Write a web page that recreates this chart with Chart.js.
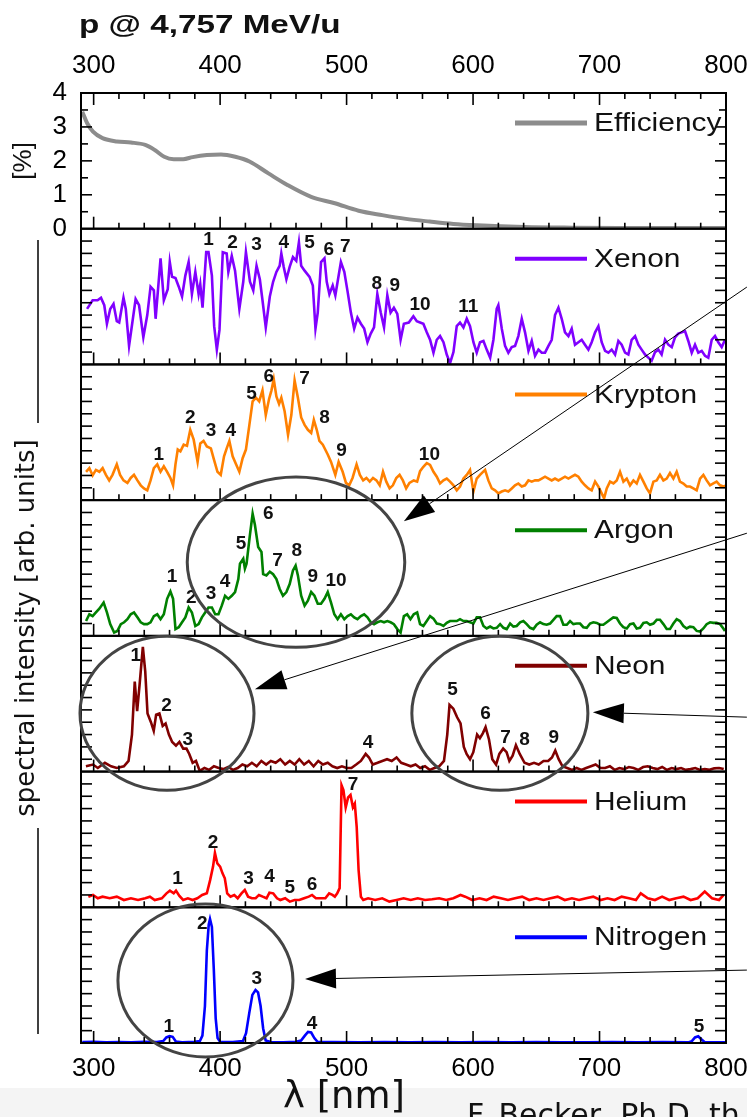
<!DOCTYPE html>
<html><head><meta charset="utf-8">
<script src="https://cdn.jsdelivr.net/npm/chart.js@4.4.1/dist/chart.umd.min.js"></script>
<style>html,body{margin:0;padding:0;background:#fff;}canvas{display:block;}</style>
</head><body>
<canvas id="c" width="747" height="1117"></canvas>
<script>
// ---------- data (wavelength nm, value) ----------
const efficiency = [[291,3.45],[295,3.1],[299.5,2.86],[307,2.67],[318.3,2.57],[329.5,2.54],[340.8,2.47],[348.3,2.32],[355.8,2.12],[363.3,2.05],[370.8,2.05],[378.3,2.11],[389.5,2.17],[400.7,2.19],[412,2.12],[423.2,1.98],[438.2,1.63],[453.2,1.29],[472,0.94],[490.7,0.75],[509.5,0.53],[528.2,0.40],[546.9,0.29],[565.7,0.21],[584.4,0.14],[603.2,0.10],[640.7,0.05],[678.2,0.03],[715.7,0.02],[800,0.02]];

const xenon = [[294.8,4.5],[299.2,5.2],[303.1,5.2],[305.8,5.4],[308.4,4.8],[310.5,3.3],[313.1,4.5],[315.7,4.9],[318.3,3.5],[320.2,3.4],[323.6,5.4],[325.4,4.5],[328.0,1.5],[330.6,3.4],[333.2,5.3],[335.9,4.8],[339.3,2.2],[342.4,4.0],[345.0,6.3],[347.6,6.0],[349.0,3.7],[352.9,8.6],[355.5,5.2],[358.6,6.1],[360.2,8.3],[362.0,7.1],[364.7,7.0],[367.3,6.3],[369.9,5.5],[372.5,7.2],[375.1,8.3],[377.7,5.7],[380.4,7.5],[383.0,5.7],[384.3,6.5],[386.1,4.6],[389.0,9.1],[390.8,9.1],[393.5,7.2],[395.3,3.1],[397.4,1.2],[399.5,2.8],[402.1,9.1],[405.2,9.0],[406.5,7.5],[409.2,8.8],[411.8,7.6],[415.2,4.5],[418.3,6.7],[420.4,9.1],[423.6,6.7],[426.2,6.0],[428.8,8.0],[431.4,6.9],[433.5,5.2],[436.1,3.0],[439.3,5.5],[441.9,6.7],[444.5,7.5],[447.1,8.0],[448.4,9.0],[450.3,7.9],[452.4,6.9],[455.0,7.9],[457.6,8.7],[460.2,8.4],[462.3,9.9],[464.1,8.0],[466.8,7.6],[470.7,7.1],[473.3,6.4],[475.4,2.9],[477.2,4.2],[479.8,8.3],[482.5,8.6],[484.3,6.7],[486.4,5.7],[489.0,6.4],[491.1,5.6],[492.9,6.7],[495.5,8.3],[498.2,7.5],[500.8,5.9],[503.4,4.2],[506.0,2.9],[508.6,3.8],[511.3,3.3],[513.9,2.9],[516.5,1.8],[519.1,2.5],[521.7,3.0],[524.3,5.7],[527.0,4.2],[529.6,3.0],[532.2,5.6],[534.8,4.2],[537.4,4.6],[540.1,4.1],[542.7,2.0],[545.3,3.3],[549.2,3.4],[552.8,3.9],[555.5,3.5],[558.1,3.4],[560.7,3.3],[563.4,2.6],[566.0,2.0],[568.7,0.95],[571.3,2.0],[573.9,2.3],[576.6,1.8],[579.2,0.8],[581.8,0.1],[584.5,1.0],[587.1,3.1],[589.7,3.4],[592.4,3.0],[595.0,3.7],[597.6,3.1],[600.3,1.8],[602.9,0.95],[605.5,1.8],[608.2,1.9],[610.8,1.2],[613.5,0.55],[616.1,2.0],[618.7,4.5],[620.0,4.8],[622.7,2.9],[625.3,1.5],[627.9,0.95],[630.6,1.4],[633.2,1.5],[635.8,2.3],[638.5,3.7],[641.1,2.6],[643.8,1.1],[646.4,1.9],[649.0,0.7],[651.7,1.2],[654.3,0.95],[656.9,0.95],[659.6,1.5],[662.2,2.0],[664.8,4.0],[667.5,4.6],[670.1,3.7],[672.7,2.6],[675.4,2.3],[678.0,2.9],[680.6,1.6],[683.3,1.8],[685.9,2.0],[688.5,1.6],[691.2,1.2],[693.8,1.8],[696.5,2.6],[699.1,3.1],[701.7,1.8],[704.4,1.1],[707.0,0.95],[709.6,1.2],[712.3,0.8],[714.9,1.9],[717.5,1.6],[720.2,0.95],[722.8,0.8],[725.4,2.0],[728.1,2.3],[730.7,1.6],[733.3,1.2],[736.0,0.8],[738.6,0.55],[741.2,0.3],[743.9,1.0],[746.5,1.2],[749.1,0.8],[751.8,2.0],[754.4,1.6],[757.1,1.4],[759.7,2.2],[762.3,2.5],[765.0,2.6],[767.6,2.7],[770.2,1.9],[772.9,0.95],[775.5,1.6],[778.1,0.95],[780.8,1.1],[783.4,0.7],[786.0,0.55],[788.7,2.0],[791.3,2.3],[793.9,1.8],[796.6,1.4],[799.2,2.0]];

const krypton = [[294.0,2.3],[296.6,2.6],[299.2,2.0],[301.8,2.45],[304.5,2.3],[307.1,2.6],[309.7,2.05],[312.3,1.6],[314.9,2.05],[318.3,2.9],[320.9,2.05],[323.6,1.6],[326.7,1.4],[329.3,1.8],[331.9,2.05],[334.6,1.6],[337.2,1.2],[339.8,0.95],[342.4,0.8],[345.0,1.6],[347.6,2.6],[350.3,2.9],[352.9,2.3],[355.5,2.75],[358.1,2.3],[360.7,1.8],[362.8,1.2],[364.7,2.9],[366.5,4.1],[368.6,3.95],[371.2,4.5],[373.8,4.4],[376.4,5.7],[379.1,4.9],[382.2,3.1],[384.3,4.6],[386.9,4.8],[389.5,4.35],[392.7,4.2],[394.8,3.4],[397.9,2.3],[400.5,2.05],[403.1,3.55],[405.2,4.2],[407.3,4.8],[409.9,3.55],[412.6,2.9],[415.2,2.3],[417.8,3.4],[420.4,4.1],[423.0,6.0],[425.7,8.0],[428.3,8.3],[430.9,8.0],[433.5,8.9],[436.1,6.9],[438.7,8.2],[440.6,8.9],[442.4,9.8],[444.5,8.4],[446.6,7.8],[448.4,8.3],[451.0,7.2],[453.7,5.3],[456.3,6.9],[458.9,9.7],[461.5,8.3],[464.1,6.7],[466.8,6.1],[469.4,5.7],[472.0,5.45],[474.1,6.5],[476.4,5.7],[478.5,4.8],[481.2,4.5],[485.1,3.7],[487.7,3.1],[491.1,2.05],[493.7,3.1],[496.9,2.3],[499.5,1.4],[502.1,1.2],[504.7,1.8],[507.9,2.9],[510.5,2.05],[513.1,1.6],[515.7,1.8],[518.3,1.5],[520.9,1.8],[523.6,1.6],[526.2,1.2],[528.8,2.3],[531.4,1.5],[534.0,0.95],[536.6,1.2],[539.3,1.8],[541.9,2.05],[544.5,1.6],[547.1,0.95],[549.7,1.4],[553.1,1.6],[555.8,1.5],[558.1,2.35],[560.7,2.7],[563.4,3.0],[566.0,2.85],[568.7,2.3],[571.3,1.9],[573.9,1.35],[576.6,1.6],[579.2,1.75],[581.8,1.5],[584.5,1.2],[587.1,0.8],[589.7,1.1],[592.4,1.75],[595.0,2.05],[597.6,2.45],[600.3,0.7],[602.9,1.75],[605.5,2.05],[609.5,2.45],[612.1,1.6],[614.8,0.95],[617.4,0.8],[620.0,0.55],[622.7,0.7],[625.3,0.8],[627.9,0.7],[630.6,0.95],[633.2,1.2],[635.8,1.35],[638.5,1.1],[641.1,1.2],[643.8,1.6],[646.4,1.5],[649.0,1.6],[651.7,1.6],[654.3,1.75],[656.9,1.9],[659.6,1.75],[662.2,1.6],[664.8,1.75],[667.5,1.6],[670.1,1.75],[672.7,1.9],[675.4,1.75],[678.0,1.9],[680.6,2.05],[683.3,1.9],[685.9,1.5],[688.5,1.2],[691.2,0.95],[693.8,0.8],[696.5,1.5],[699.1,1.1],[701.7,0.55],[703.6,0.15],[705.7,0.95],[708.3,1.5],[711.0,1.35],[713.6,1.6],[716.2,2.3],[718.9,1.5],[721.5,1.75],[724.1,1.2],[726.8,1.6],[729.4,1.35],[732.0,2.05],[734.7,1.5],[737.3,0.95],[739.9,0.55],[742.6,1.5],[745.2,1.6],[747.8,2.05],[750.5,1.6],[753.1,1.75],[755.7,2.2],[758.4,1.75],[761.0,2.3],[763.6,1.5],[766.3,1.35],[768.9,1.1],[771.5,1.1],[774.2,0.95],[776.8,0.8],[779.5,1.75],[782.1,2.05],[784.7,1.6],[787.4,1.2],[790.0,1.35],[792.6,1.5],[795.3,1.2],[797.9,1.1],[800,1.2]];

const argon = [[294.0,1.2],[296.6,1.75],[299.2,1.6],[301.8,1.9],[304.5,2.2],[307.9,2.7],[310.5,1.9],[313.1,0.95],[316.2,0.27],[318.8,0.4],[321.5,0.95],[324.1,1.1],[326.7,1.35],[329.3,1.75],[331.9,1.9],[334.6,1.5],[337.2,1.1],[339.8,0.95],[342.4,0.95],[345.0,1.1],[347.6,1.6],[350.3,1.75],[352.9,1.35],[355.5,1.75],[358.1,3.0],[360.7,3.6],[362.8,3.0],[364.7,0.55],[367.3,0.7],[369.9,1.1],[372.5,1.5],[375.1,2.3],[377.7,1.9],[380.4,0.8],[383.0,0.95],[385.6,1.5],[388.2,1.9],[390.8,2.3],[393.5,2.3],[396.1,1.75],[398.7,1.75],[401.3,2.45],[403.9,3.25],[406.5,3.0],[409.2,3.25],[411.8,3.55],[414.4,4.6],[415.7,5.85],[418.3,6.25],[419.6,5.45],[420.9,5.85],[423.6,8.2],[425.7,9.9],[427.5,9.0],[430.1,7.2],[432.7,6.8],[434.0,5.0],[436.6,4.9],[439.3,5.2],[441.9,5.0],[444.5,4.6],[447.1,3.8],[449.7,3.25],[452.4,3.55],[455.0,4.2],[457.6,5.3],[459.7,5.7],[461.5,4.9],[464.1,3.25],[466.8,2.45],[469.4,2.85],[472.0,3.55],[474.6,3.25],[477.2,2.6],[479.8,2.6],[482.5,3.0],[485.1,3.55],[487.7,2.7],[490.3,1.75],[492.9,1.35],[495.5,1.75],[498.2,1.35],[500.8,1.6],[503.4,1.75],[506.0,1.5],[508.6,1.35],[511.3,1.6],[513.9,1.75],[516.5,1.5],[519.1,1.1],[521.7,0.95],[524.3,1.1],[527.0,1.2],[529.6,1.1],[532.2,1.2],[534.8,1.1],[537.4,0.95],[540.1,0.55],[542.7,0.27],[545.3,1.6],[547.9,1.75],[550.5,1.35],[553.1,1.75],[555.8,1.9],[558.1,0.95],[560.7,0.8],[563.4,1.2],[566.0,1.6],[568.7,1.4],[571.3,1.0],[573.9,0.95],[576.6,0.8],[579.2,1.05],[581.8,1.2],[584.5,1.2],[587.1,1.2],[589.7,1.35],[592.4,1.2],[595.0,1.2],[597.6,1.1],[600.3,1.0],[602.9,1.5],[605.5,1.5],[608.2,0.8],[610.8,0.6],[613.5,0.75],[616.1,0.6],[618.7,0.65],[621.4,0.95],[624.0,0.65],[626.6,0.55],[629.3,1.0],[631.9,0.75],[634.5,0.8],[637.2,1.1],[639.8,1.2],[642.4,0.95],[645.1,0.65],[647.7,0.55],[650.3,0.9],[653.0,1.1],[655.6,0.95],[658.2,0.9],[660.9,1.0],[663.5,1.3],[666.1,1.6],[668.8,1.6],[671.4,0.9],[674.1,0.9],[676.7,1.2],[679.3,0.95],[682.0,1.0],[684.6,1.0],[687.2,0.7],[689.9,0.65],[692.5,1.0],[695.1,1.1],[697.8,1.05],[700.4,0.9],[703.0,0.9],[705.7,1.1],[708.3,1.3],[710.9,1.5],[713.6,1.45],[716.2,1.0],[718.8,0.7],[721.5,0.6],[724.1,0.95],[726.8,1.0],[729.4,0.6],[732.0,0.65],[734.7,1.05],[737.3,1.1],[739.9,0.9],[742.6,1.0],[745.2,1.3],[747.8,1.3],[750.5,0.95],[753.1,0.55],[755.7,0.55],[758.4,1.0],[761.0,1.35],[763.6,1.2],[766.3,0.8],[768.9,0.6],[771.5,0.75],[774.2,0.7],[776.8,0.4],[779.5,0.35],[782.1,0.6],[784.7,0.95],[787.4,1.1],[790.0,1.05],[792.6,1.05],[795.3,0.95],[797.9,0.6],[799.2,0.4]];

const neon = [[293.9,0.43],[299.5,0.57],[303.3,0.29],[308.9,0.71],[313.8,0.43],[318.3,0.29],[323.9,0.43],[327.6,0.86],[330.3,3.0],[332.5,7.3],[334.4,4.9],[336.3,7.0],[338.9,10.1],[340.8,8.1],[342.6,4.7],[345.3,4.0],[347.5,3.3],[349.4,4.6],[352.0,4.7],[354.6,3.7],[356.9,3.9],[359.5,3.0],[362.1,2.4],[365.1,2.1],[367.8,2.4],[370.8,1.86],[373.4,1.86],[375.6,1.43],[378.3,0.71],[380.9,0.86],[383.9,0.05],[387.6,0.29],[391.4,0.14],[395.1,0.43],[398.9,0.29],[402.6,0.2],[406.4,0.37],[410.1,0.14],[413.9,0.29],[417.6,0.57],[421.4,0.43],[425.1,0.71],[428.9,0.43],[432.6,0.86],[436.4,0.57],[440.1,0.86],[443.9,0.71],[447.6,1.0],[451.4,0.57],[455.1,0.86],[458.9,0.57],[462.6,1.0],[466.4,0.57],[470.1,0.86],[473.9,0.43],[477.6,0.86],[481.3,0.57],[485.1,0.71],[488.8,0.43],[492.6,0.29],[496.3,0.43],[500.1,0.29],[503.8,0.29],[507.6,0.57],[511.3,0.86],[515.1,1.43],[517.7,1.14],[520.7,0.57],[524.5,0.71],[528.2,0.86],[532.0,1.0],[535.7,0.86],[539.5,1.14],[543.2,0.71],[547.0,0.57],[550.7,0.43],[554.5,0.57],[558.2,0.29],[562.0,0.43],[565.7,0.14],[569.5,0.29],[573.2,0.43],[577.0,0.86],[579.6,3.0],[581.4,5.4],[584.4,5.1],[587.4,4.4],[590.1,3.9],[592.7,2.0],[594.9,1.43],[597.6,1.0],[600.2,1.57],[603.2,3.0],[605.4,2.7],[607.7,3.1],[609.9,3.6],[612.6,2.6],[615.2,1.0],[618.2,0.57],[620.8,1.43],[623.8,1.86],[626.5,1.57],[628.7,0.86],[631.3,1.29],[633.9,2.14],[636.9,1.43],[640.7,0.71],[644.4,0.57],[648.2,0.71],[651.9,0.57],[655.7,0.86],[659.4,0.86],[662.4,1.14],[665.0,1.71],[667.7,1.0],[670.7,0.43],[674.4,0.29],[678.2,0.14],[681.9,0.29],[685.7,0.14],[689.4,0.29],[693.2,0.43],[696.9,0.57],[700.7,0.29],[704.4,0.29],[708.2,0.43],[711.9,0.14],[715.7,0.29],[719.4,0.2],[723.2,0.37],[726.9,0.29],[730.7,0.14],[734.5,0.37],[738.2,0.43],[742.0,0.29],[745.7,0.2],[749.5,0.37],[753.2,0.14],[757.0,0.29],[760.7,0.2],[764.5,0.29],[768.2,0.14],[772.0,0.2],[775.7,0.29],[779.5,0.14],[783.2,0.2],[787.0,0.14],[790.7,0.26],[794.5,0.29],[798.2,0.2]];

const helium = [[295.8,0.86],[299.5,1.0],[303.3,0.73],[307.0,0.86],[312.7,0.73],[318.3,0.86],[323.9,0.59],[329.5,0.73],[335.1,0.59],[340.8,0.73],[344.5,0.86],[348.3,0.59],[353.9,0.73],[357.6,1.13],[360.3,1.35],[363.3,1.13],[365.1,1.35],[367.8,0.92],[370.8,0.59],[374.5,0.73],[378.3,0.59],[382.0,0.73],[385.8,1.0],[389.5,1.13],[392.1,2.2],[394.4,3.3],[395.9,4.4],[397.8,3.55],[400.0,3.3],[401.9,2.75],[403.7,2.35],[405.6,1.13],[408.2,0.86],[411.2,1.0],[413.9,0.73],[416.9,1.13],[419.5,1.4],[422.1,0.86],[425.1,0.73],[428.1,0.73],[430.7,1.0],[433.7,0.86],[436.7,0.73],[439.0,1.19],[442.0,1.13],[445.0,0.73],[447.6,0.59],[451.4,0.73],[455.1,0.46],[458.9,0.59],[462.6,0.59],[466.4,0.73],[470.1,0.86],[472.7,1.0],[475.7,0.73],[479.5,0.73],[483.2,0.73],[486.2,1.13],[488.8,1.0],[490.7,0.86],[492.6,1.13],[494.5,1.55],[496.0,9.9],[497.5,9.5],[499.3,8.1],[501.2,8.9],[503.1,9.1],[505.0,8.1],[506.5,8.4],[508.0,6.5],[509.5,3.0],[511.3,0.86],[513.2,0.59],[517.0,0.73],[522.6,0.59],[528.2,0.73],[533.8,0.46],[539.5,0.59],[545.1,0.73],[550.7,0.59],[556.3,0.73],[562.0,0.59],[567.6,0.65],[573.2,0.73],[578.8,0.59],[584.4,0.73],[590.1,1.0],[593.8,0.86],[599.4,0.59],[605.1,0.73],[610.7,0.59],[616.3,0.86],[622.0,0.73],[627.6,0.59],[633.2,0.73],[638.8,0.86],[644.4,0.59],[650.1,0.73],[655.7,0.59],[661.3,0.73],[666.9,0.86],[672.5,0.59],[678.2,0.73],[683.8,0.59],[689.4,0.73],[695.0,0.86],[700.7,0.59],[706.3,0.73],[711.9,0.59],[717.5,0.86],[723.2,0.73],[728.8,0.59],[732.6,1.13],[738.2,0.73],[743.8,0.59],[749.5,0.86],[755.1,0.59],[760.7,0.73],[766.4,0.86],[772.0,0.59],[777.6,0.73],[783.2,1.27],[788.9,0.73],[794.5,0.59],[798.2,1.0]];

const nitrogen = [[291,0.08],[300,0.1],[310,0.06],[320,0.08],[330,0.05],[340,0.1],[350,0.08],[355,0.15],[357.5,0.45],[360,0.55],[362.5,0.5],[365,0.12],[370,0.06],[380,0.1],[384,0.15],[386,0.6],[388,3.0],[389.5,7.5],[391,9.6],[392,10.05],[393.5,9.4],[395,6.0],[396.5,2.0],[398,0.4],[400,0.1],[410,0.08],[418,0.15],[420.5,0.8],[423,2.4],[425.5,3.9],[428,4.3],[430,4.1],[432,3.0],[434,1.2],[436,0.2],[440,0.08],[450,0.06],[460,0.1],[464,0.2],[467,0.6],[469.5,0.9],[472,0.85],[474.5,0.4],[477,0.1],[490,0.08],[510,0.05],[530,0.08],[550,0.06],[570,0.08],[590,0.05],[610,0.07],[630,0.05],[650,0.08],[670,0.06],[690,0.05],[710,0.08],[730,0.06],[750,0.07],[770,0.05],[773,0.15],[775.5,0.45],[778,0.55],[780.5,0.3],[783,0.08],[800,0.06]];

// peak numbers: [nm, value, text]
const xenonMarks = [[390.8,10.1,'1'],[409.9,9.9,'2'],[428.8,9.7,'3'],[450.3,9.9,'4'],[470.7,9.9,'5'],[485.9,9.3,'6'],[499,9.5,'7'],[523.8,6.5,'8'],[538.2,6.4,'9'],[558.1,4.8,'10'],[596.3,4.7,'11']];
const kryptonMarks = [[351.6,3.7,'1'],[376.4,6.7,'2'],[392.9,5.6,'3'],[408.4,5.6,'4'],[424.9,8.6,'5'],[438.5,10.0,'6'],[466.8,9.8,'7'],[482.5,6.7,'8'],[496.1,4.0,'9'],[565.5,3.7,'10']];
const argonMarks = [[362.0,4.8,'1'],[377.2,3.1,'2'],[392.9,3.4,'3'],[403.9,4.4,'4'],[416.5,7.5,'5'],[438.0,9.9,'6'],[445.3,6.1,'7'],[460.7,6.9,'8'],[473.3,4.8,'9'],[491.6,4.5,'10']];
const neonMarks = [[333.3,9.4,'1'],[357.6,5.3,'2'],[374.5,2.6,'3'],[517.0,2.3,'4'],[583.7,6.6,'5'],[609.9,4.7,'6'],[625.7,2.7,'7'],[640.7,2.6,'8'],[663.9,2.7,'9']];
const heliumMarks = [[366.3,2.35,'1'],[394.4,5.2,'2'],[422.5,2.35,'3'],[439.0,2.5,'4'],[455.1,1.6,'5'],[472.7,1.8,'6'],[505.0,9.9,'7']];
const nitrogenMarks = [[359.5,1.3,'1'],[385.8,9.65,'2'],[428.9,5.2,'3'],[472.7,1.56,'4'],[778.6,1.3,'5']];

const xTickLabels = [300,400,500,600,700,800];
const effTickLabels = [0,1,2,3,4];

// highlight ellipses and arrows (data units)
const rings = [
  {panel:'ar', x:460, y:5.97, rx:86, ry:6.9},
  {panel:'ne', x:358, y:4.73, rx:68.8, ry:6.24},
  {panel:'ne', x:621.2, y:4.73, rx:69.6, ry:6.24},
  {panel:'n2', x:388.4, y:5.06, rx:69.2, ry:6.2}
];
const arrows = [
  {from:['xe',816.5,6.27], to:['ar',545.3,9.29]},
  {from:['ar',816.5,8.32], to:['ne',427.5,6.68]},
  {from:['ne',816.5,4.41], to:['ne',694.7,4.81]},
  {from:['n2',816.5,5.91], to:['n2',467.1,5.18]}
];

const panels = [
  {key:'eff', name:'Efficiency', color:'#8c8c8c', width:4, max:4, step:0.5, data:efficiency, marks:[]},
  {key:'xe', name:'Xenon', color:'#8000ff', width:2.6, max:11, step:1, data:xenon, marks:xenonMarks},
  {key:'kr', name:'Krypton', color:'#ff8000', width:2.6, max:11, step:1, data:krypton, marks:kryptonMarks},
  {key:'ar', name:'Argon', color:'#008000', width:2.6, max:11, step:1, data:argon, marks:argonMarks},
  {key:'ne', name:'Neon', color:'#800000', width:2.6, max:11, step:1, data:neon, marks:neonMarks},
  {key:'he', name:'Helium', color:'#ff0000', width:2.6, max:11, step:1, data:helium, marks:heliumMarks},
  {key:'n2', name:'Nitrogen', color:'#0000ff', width:2.6, max:11, step:1, data:nitrogen, marks:nitrogenMarks}
];

// ---------- chart ----------
const FONT = "'Liberation Sans', Arial, sans-serif";
const tickFont = {family: FONT, size: 26};

function xAxis(pos, h, pad) {
  return {
    type:'linear', position:pos, min:290, max:800,
    ticks:{stepSize:20, includeBounds:false, autoSkip:false, maxRotation:0, color:'#000', font:tickFont, padding:pad,
      callback:v => xTickLabels.includes(v) ? String(v) : ''},
    grid:{display:false, drawTicks:false}, border:{display:false},
    afterFit:s => { s.height = h; s.paddingLeft = 0; s.paddingRight = 0; }
  };
}
const scales = { x: xAxis('bottom', 74, 10), xTop: xAxis('top', 93, 12) };
panels.forEach((p, i) => {
  scales['y_' + p.key] = {
    type:'linear', position:'left', stack:'panels', stackWeight:1, weight: panels.length - i,
    offset:false, min:0, max:p.max,
    ticks:{stepSize:p.step, display:p.key === 'eff', autoSkip:false, color:'#000', font:tickFont, padding:14,
      callback:v => effTickLabels.includes(v) ? String(v) : ''},
    grid:{display:false, drawTicks:false}, border:{display:false},
    afterFit:s => { s.width = 81; s.paddingTop = 0; s.paddingBottom = 0; }
  };
});

const datasets = panels.map(p => ({
  label:p.name, data:p.data.map(([x, y]) => ({x, y})),
  yAxisID:'y_' + p.key, xAxisID:'x',
  borderColor:p.color, borderWidth:p.width, pointRadius:0, fill:false,
  tension:0, cubicInterpolationMode: p.key === 'eff' ? 'monotone' : 'default'
}));

function seg(c, x1, y1, x2, y2) { c.beginPath(); c.moveTo(x1, y1); c.lineTo(x2, y2); c.stroke(); }
function stretchText(c, t, x, y, sx, align) {
  c.save(); c.translate(x, y); c.scale(sx, 1); c.textAlign = align; c.fillText(t, 0, 0); c.restore();
}

const decor = {
  id:'decor',
  beforeDraw(chart) {
    const c = chart.ctx;
    c.save();
    c.fillStyle = '#fff'; c.fillRect(0, 0, chart.width, chart.height);
    c.fillStyle = '#f4f4f4'; c.fillRect(0, 1088, chart.width, chart.height - 1088);
    c.restore();
  },
  afterDraw(chart) {
    const c = chart.ctx, ca = chart.chartArea, xs = chart.scales.x;
    const P = (k, x, y) => [xs.getPixelForValue(x), chart.scales['y_' + k].getPixelForValue(y)];
    c.save();
    // frames and inward ticks
    panels.forEach((p, i) => {
      const ys = chart.scales['y_' + p.key];
      c.strokeStyle = '#000';
      c.lineWidth = 1.6;
      ys.ticks.forEach(t => {
        if (t.value <= ys.min || t.value >= ys.max) return;
        const y = ys.getPixelForValue(t.value);
        const len = p.key === 'eff' ? (Number.isInteger(t.value) ? 11 : 7) : 11;
        seg(c, ca.left, y, ca.left + len, y);
        seg(c, ca.right, y, ca.right - len, y);
      });
      xs.ticks.forEach(t => {
        if (t.value <= xs.min || t.value >= xs.max) return;
        const x = xs.getPixelForValue(t.value);
        const len = t.value % 100 === 0 ? 12 : 6;
        seg(c, x, ys.bottom, x, ys.bottom - len);
        if (i === 0) seg(c, x, ys.top, x, ys.top + len);
      });
      c.lineWidth = 2;
      c.strokeRect(ca.left, ys.top, ca.right - ca.left, ys.bottom - ys.top);
      // legend
      const ly = ys.top + 30;
      c.strokeStyle = p.color; c.lineWidth = p.key === 'eff' ? 5 : 4;
      seg(c, ca.right - 211, ly, ca.right - 139, ly);
      c.fillStyle = '#111'; c.font = '26px ' + FONT; c.textBaseline = 'middle';
      stretchText(c, p.name, ca.right - 132, ly + 1, 1.15, 'left');
      // peak numbers
      c.font = 'bold 19px ' + FONT; c.fillStyle = '#111';
      p.marks.forEach(([x, v, t]) => {
        const [px, py] = P(p.key, x, v);
        c.textAlign = 'center'; c.textBaseline = 'middle';
        c.fillText(t, px, py);
      });
    });
    // rings
    c.strokeStyle = '#444'; c.lineWidth = 3;
    rings.forEach(r => {
      const [cx, cy] = P(r.panel, r.x, r.y);
      const rx = xs.getPixelForValue(r.x + r.rx) - cx;
      const ry = cy - chart.scales['y_' + r.panel].getPixelForValue(r.y + r.ry);
      c.beginPath(); c.ellipse(cx, cy, rx, ry, 0, 0, Math.PI * 2); c.stroke();
    });
    // arrows
    arrows.forEach(a => {
      const [x1, y1] = P(...a.from), [x2, y2] = P(...a.to);
      const ang = Math.atan2(y2 - y1, x2 - x1), L = 31, W = 10;
      const bx = x2 - L * Math.cos(ang), by = y2 - L * Math.sin(ang);
      c.strokeStyle = '#000'; c.lineWidth = 1;
      seg(c, x1, y1, bx, by);
      c.fillStyle = '#000';
      c.beginPath(); c.moveTo(x2, y2);
      c.lineTo(bx + W * Math.sin(ang), by - W * Math.cos(ang));
      c.lineTo(bx - W * Math.sin(ang), by + W * Math.cos(ang));
      c.closePath(); c.fill();
    });
    // titles
    c.fillStyle = '#111'; c.textBaseline = 'alphabetic';
    c.font = 'bold 25px ' + FONT;
    stretchText(c, 'p @ 4,757 MeV/u', 79, 33, 1.33, 'left');
    const ye = chart.scales.y_eff;
    c.save(); c.translate(31, (ye.top + ye.bottom) / 2); c.rotate(-Math.PI / 2);
    c.font = '26px ' + FONT; c.textAlign = 'center'; c.fillText('[%]', 0, 0); c.restore();
    c.save(); c.translate(34, 628); c.rotate(-Math.PI / 2);
    c.font = "26px 'DejaVu Sans', sans-serif"; c.textAlign = 'center';
    c.fillText('spectral intensity [arb. units]', 0, 0); c.restore();
    c.strokeStyle = '#000'; c.lineWidth = 1.5;
    seg(c, 38, 240, 38, 423); seg(c, 38, 828, 38, 1034);
    c.font = "37px 'DejaVu Sans', sans-serif"; c.textAlign = 'center';
    c.fillText('λ [nm]', 344, 1108);
    c.font = "30px 'DejaVu Sans', sans-serif"; c.textAlign = 'left';
    c.fillText('F. Becker, Ph.D. th', 467, 1125);
    c.restore();
  }
};

new Chart(document.getElementById('c'), {
  type:'line',
  data:{datasets},
  options:{
    responsive:false, animation:false, devicePixelRatio:1,
    layout:{padding:{left:0, right:21, top:0, bottom:0}},
    plugins:{legend:{display:false}, tooltip:{enabled:false}, title:{display:false}},
    events:[],
    scales
  },
  plugins:[decor]
});
</script>
</body></html>
